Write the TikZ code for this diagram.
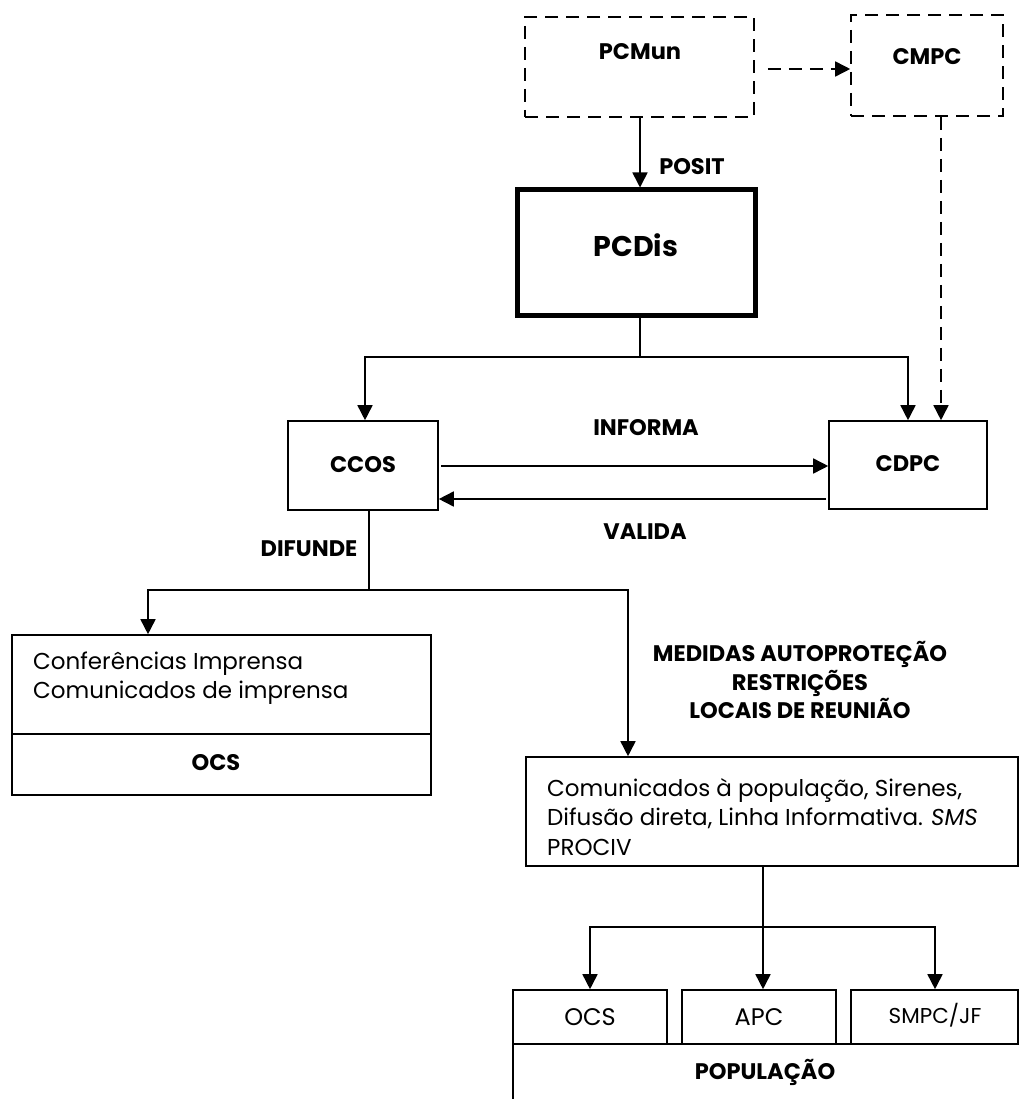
\documentclass[tikz,border=0pt]{standalone}
\usepackage{fontspec}
\setmainfont{Poppins}
\usetikzlibrary{arrows.meta,calc}
\begin{document}
\begin{tikzpicture}[x=1pt,y=-1pt,
  box/.style={draw,line width=1.6pt,inner sep=0pt},
  dbox/.style={box,dash pattern=on 13pt off 8pt},
  wire/.style={line width=1.6pt},
  link/.style={wire,-{Triangle[length=15pt,width=15pt]}},
  dlink/.style={link,dash pattern=on 13pt off 8pt},
  lbl/.style={font=\fontsize{22.5}{28.5}\selectfont\bfseries,inner sep=0pt,align=center},
  txt/.style={font=\fontsize{23}{29.5}\selectfont,inner sep=0pt,align=left}]
\useasboundingbox (0,0) rectangle (1027,1099);

% command posts
\node[dbox,minimum width=229pt,minimum height=100pt] (pcmun) at (639.5,67) {};
\node[lbl] (tpcmun) at (640,52) {PCMun};
\node[dbox,minimum width=152pt,minimum height=101pt] (cmpc) at (927,65.5) {};
\node[lbl] (tcmpc) at (927,57) {CMPC};
\node[box,line width=5pt,minimum width=238pt,minimum height=125pt] (pcdis) at (636,252.5) {};
\node[font=\fontsize{28.5}{34}\selectfont\bfseries,inner sep=0pt] (tpcdis) at (636,245) {PCDis};

% coordination cells
\node[box,minimum width=150pt,minimum height=89pt] (ccos) at (363,465.5) {};
\node[lbl] (tccos) at (363,465) {CCOS};
\node[box,minimum width=158pt,minimum height=88pt] (cdpc) at (908,465) {};
\node[lbl] (tcdpc) at (908,464) {CDPC};

% media box
\node[box,minimum width=419pt,minimum height=160pt] (media) at (221.5,715) {};
\draw[wire] (media.west |- 0,734) -- (media.east |- 0,734);
\node[txt,anchor=west] (tmedia) at (33,678) {Conferências Imprensa\\Comunicados de imprensa};
\node[lbl] (tocs) at (216,763) {OCS};

% public warning box
\node[box,minimum width=492pt,minimum height=109pt] (warn) at (772,811.5) {};
\node[txt,anchor=west] (twarn) at (547,817) {Comunicados à população, Sirenes,\\Difusão direta, Linha Informativa. \textit{SMS}\\PROCIV};

% receivers
\node[box,minimum width=154pt,minimum height=54pt] (ocs) at (590,1017) {};
\node[txt,font=\fontsize{24}{28}\selectfont] at (590,1017) {OCS};
\node[box,minimum width=154pt,minimum height=54pt] (apc) at (759,1017) {};
\node[txt,font=\fontsize{24}{28}\selectfont] at (759,1017) {APC};
\node[box,minimum width=167pt,minimum height=54pt] (smpc) at (934.5,1017) {};
\node[txt,font=\fontsize{21.5}{25}\selectfont] at (935,1015) {SMPC/JF};
\coordinate (popnw) at (513,1044);
\coordinate (popne) at (1018,1044);
\coordinate (popsw) at (513,1099);
\draw[wire] (popsw) -- (popnw) -- (popne);
\node[lbl] (tpop) at (765,1072) {POPULAÇÃO};

% connector labels
\node[lbl] at (692,167) {POSIT};
\node[lbl] at (646,428) {INFORMA};
\node[lbl] at (645,532) {VALIDA};
\node[lbl] at (309,549) {DIFUNDE};
\node[lbl] at (800,680) {MEDIDAS AUTOPROTEÇÃO\\RESTRIÇÕES\\LOCAIS DE REUNIÃO};

% connectors
\draw[dlink] ([xshift=13pt,yshift=-2pt]pcmun.east) -- (cmpc.west |- 0,69);
\draw[link] (640,0 |- pcmun.south) -- (640,0 |- pcdis.north);
\coordinate (split1) at (640,357);
\draw[wire] (640,0 |- pcdis.south) -- (split1);
\draw[link] (split1) -| (365,0 |- ccos.north);
\draw[link] (split1) -| (908,0 |- cdpc.north);
\draw[dlink] (941,0 |- cmpc.south) -- (941,0 |- cdpc.north);
\draw[link] (441,466) -- (cdpc.west |- 0,466);
\draw[link] (826,499) -- (ccos.east |- 0,499);

\coordinate (split2) at (369,590);
\draw[wire] (369,0 |- ccos.south) -- (split2);
\draw[link] (split2) -| (148,0 |- media.north);
\draw[link] (split2) -| (628,0 |- warn.north);

\coordinate (split3) at (763,927);
\draw[wire] (763,0 |- warn.south) -- (split3);
\draw[link] (split3) -- (763,0 |- apc.north);
\draw[link] (split3) -| (590,0 |- ocs.north);
\draw[link] (split3) -| (935,0 |- smpc.north);
\end{tikzpicture}
\end{document}
